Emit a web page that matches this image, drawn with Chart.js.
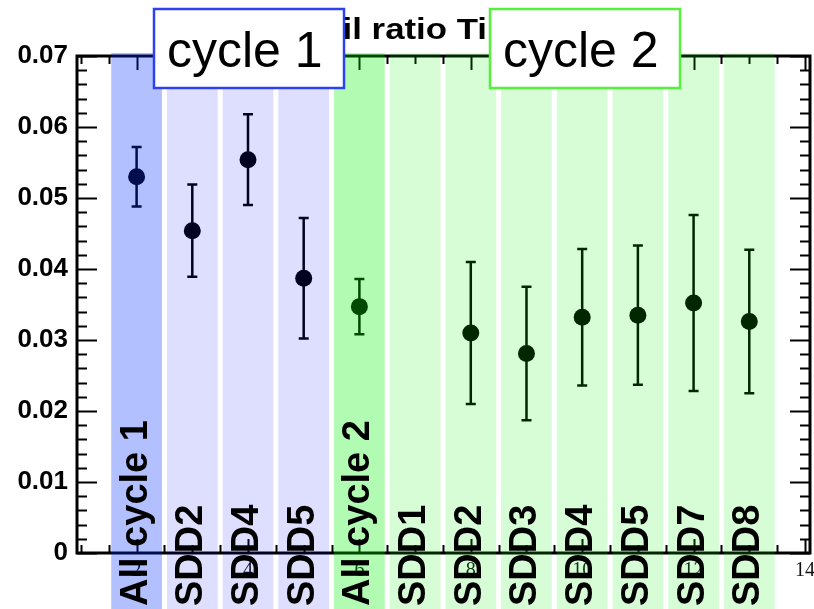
<!DOCTYPE html>
<html>
<head>
<meta charset="utf-8">
<script src="https://cdn.jsdelivr.net/npm/chart.js@4.4.1/dist/chart.umd.min.js"></script>
<style>
  html, body { margin: 0; padding: 0; background: #fff; }
  #wrap { width: 814px; height: 609px; }
</style>
</head>
<body>
<div id="wrap"><canvas id="ratioChart" width="814" height="609"></canvas></div>
<script>
// data
const labels = ['All cycle 1', 'SDD2', 'SDD4', 'SDD5', 'All cycle 2', 'SDD1', 'SDD2', 'SDD3', 'SDD4', 'SDD5', 'SDD7', 'SDD8'];
const xPos = [2, 3, 4, 5, 6, 7, 8, 9, 10, 11, 12, 13];
const ratio = [0.0530, 0.0454, 0.0554, 0.0387, 0.0347, null, 0.0310, 0.0281, 0.0332, 0.0335, 0.0352, 0.0326];
const ratioErr = [0.0042, 0.0065, 0.0064, 0.0085, 0.0039, null, 0.0100, 0.0094, 0.0096, 0.0098, 0.0124, 0.0101];
const bandKind = ['all1', 'c1', 'c1', 'c1', 'all2', 'c2', 'c2', 'c2', 'c2', 'c2', 'c2', 'c2'];

const bandColors = {
    all1: 'rgba(0, 47, 255, 0.30)',
    c1: 'rgba(0, 10, 255, 0.13)',
    all2: 'rgba(0, 243, 0, 0.30)',
    c2: 'rgba(0, 243, 0, 0.16)'
};

const points = xPos.map((x, i) => ({ x: x, y: ratio[i] }));

// frame + ROOT style ticks
const framePlugin = {
    id: 'frame',
    beforeDatasetsDraw(chart) {
        const ctx = chart.ctx;
        const a = chart.chartArea;
        const xs = chart.scales.x;
        const ys = chart.scales.y;
        ctx.save();
        ctx.strokeStyle = '#000';
        ctx.lineWidth = 2;
        ctx.beginPath();
        for (let v = 0; v <= 0.0701; v += 0.002) {
            const y = Math.round(ys.getPixelForValue(v)) + 0.5;
            const major = Math.abs(v / 0.01 - Math.round(v / 0.01)) < 1e-6;
            const len = major ? 20 : 10;
            ctx.moveTo(a.left, y); ctx.lineTo(a.left + len, y);
            ctx.moveTo(a.right, y); ctx.lineTo(a.right - len, y);
        }
        for (let v = 1; v <= 14.01; v += 0.5) {
            const x = Math.round(xs.getPixelForValue(v)) + 0.5;
            const major = Math.abs(v / 2 - Math.round(v / 2)) < 1e-6;
            const len = major ? 14 : 8;
            ctx.moveTo(x, a.bottom); ctx.lineTo(x, a.bottom - len);
            ctx.moveTo(x, a.top); ctx.lineTo(x, a.top + len);
        }
        ctx.stroke();
        ctx.lineWidth = 3;
        ctx.strokeRect(a.left, a.top, a.right - a.left, a.bottom - a.top);
        ctx.restore();

        // error bars
        ctx.save();
        ctx.strokeStyle = '#000';
        ctx.lineWidth = 2.5;
        ratio.forEach((v, i) => {
            if (v === null) return;
            const x = xs.getPixelForValue(xPos[i]);
            const yTop = ys.getPixelForValue(v + ratioErr[i]);
            const yBot = ys.getPixelForValue(v - ratioErr[i]);
            ctx.beginPath();
            ctx.moveTo(x, yTop); ctx.lineTo(x, yBot);
            ctx.moveTo(x - 5, yTop); ctx.lineTo(x + 5, yTop);
            ctx.moveTo(x - 5, yBot); ctx.lineTo(x + 5, yBot);
            ctx.stroke();
        });
        ctx.restore();
    },
    afterDatasetsDraw(chart) {
        const ctx = chart.ctx;
        const a = chart.chartArea;
        const xs = chart.scales.x;
        const halfW = xs.getPixelForValue(0.455) - xs.getPixelForValue(0);

        // translucent bands over everything
        ctx.save();
        xPos.forEach((x, i) => {
            const cx = xs.getPixelForValue(x);
            ctx.fillStyle = bandColors[bandKind[i]];
            ctx.fillRect(cx - halfW, a.top - 3, 2 * halfW, chart.height - a.top + 3);
        });
        ctx.restore();

        // rotated bin labels
        ctx.save();
        ctx.fillStyle = '#000';
        ctx.font = 'bold 38px "Liberation Sans", Arial, sans-serif';
        ctx.textAlign = 'left';
        ctx.textBaseline = 'alphabetic';
        xPos.forEach((x, i) => {
            const cx = xs.getPixelForValue(x);
            ctx.save();
            ctx.translate(cx + 10, 606);
            ctx.rotate(-Math.PI / 2);
            ctx.fillText(labels[i], 0, 0);
            ctx.restore();
        });
        ctx.restore();

        // title (mostly hidden behind the boxes)
        ctx.save();
        ctx.fillStyle = '#000';
        ctx.font = 'bold 29px "Liberation Sans", Arial, sans-serif';
        ctx.textAlign = 'right';
        ctx.textBaseline = 'alphabetic';
        ctx.translate(487, 39);
        ctx.scale(1.2, 1);
        ctx.fillText('Tail ratio Ti', 0, 0);
        ctx.restore();

        // boxes
        const boxes = [
            { x: 154, text: 'cycle 1', color: 'rgb(45, 65, 240)' },
            { x: 490, text: 'cycle 2', color: 'rgb(85, 240, 60)' }
        ];
        ctx.save();
        boxes.forEach(b => {
            ctx.fillStyle = '#fff';
            ctx.fillRect(b.x, 9, 190, 79);
            ctx.strokeStyle = b.color;
            ctx.lineWidth = 2.5;
            ctx.strokeRect(b.x, 9, 190, 79);
            ctx.fillStyle = '#000';
            ctx.font = '50px "Liberation Sans", Arial, sans-serif';
            ctx.textAlign = 'left';
            ctx.textBaseline = 'alphabetic';
            ctx.fillText(b.text, b.x + 13, 67);
        });
        ctx.restore();
    }
};

const ctx = document.getElementById('ratioChart').getContext('2d');
new Chart(ctx, {
    type: 'scatter',
    data: {
        datasets: [{
            label: 'ratio',
            data: points,
            pointRadius: 8.5,
            pointHoverRadius: 8.5,
            pointBackgroundColor: '#000',
            pointBorderWidth: 0,
            showLine: false
        }]
    },
    options: {
        responsive: false,
        animation: false,
        events: [],
        layout: { autoPadding: false, padding: { top: 56, right: 4, left: 0, bottom: 0 } },
        plugins: {
            legend: { display: false },
            title: { display: false },
            tooltip: { enabled: false }
        },
        scales: {
            x: {
                type: 'linear',
                min: 0.93,
                max: 14.09,
                grid: { display: false, drawTicks: false },
                border: { display: false },
                ticks: {
                    stepSize: 2,
                    includeBounds: false,
                    maxRotation: 0,
                    autoSkip: false,
                    padding: 6,
                    color: '#111',
                    font: { family: '"Liberation Serif", "Times New Roman", serif', size: 20 }
                },
                afterFit(s) { s.height = 56; s.paddingLeft = 0; s.paddingRight = 0; }
            },
            y: {
                min: 0,
                max: 0.07,
                grid: { display: false, drawTicks: false },
                border: { display: false },
                ticks: {
                    stepSize: 0.01,
                    padding: 9,
                    color: '#000',
                    font: { family: '"Liberation Sans", Arial, sans-serif', size: 26, weight: 'bold' }
                },
                afterFit(s) { s.width = 77; s.paddingTop = 0; s.paddingBottom = 0; }
            }
        }
    },
    plugins: [framePlugin]
});
</script>
</body>
</html>
